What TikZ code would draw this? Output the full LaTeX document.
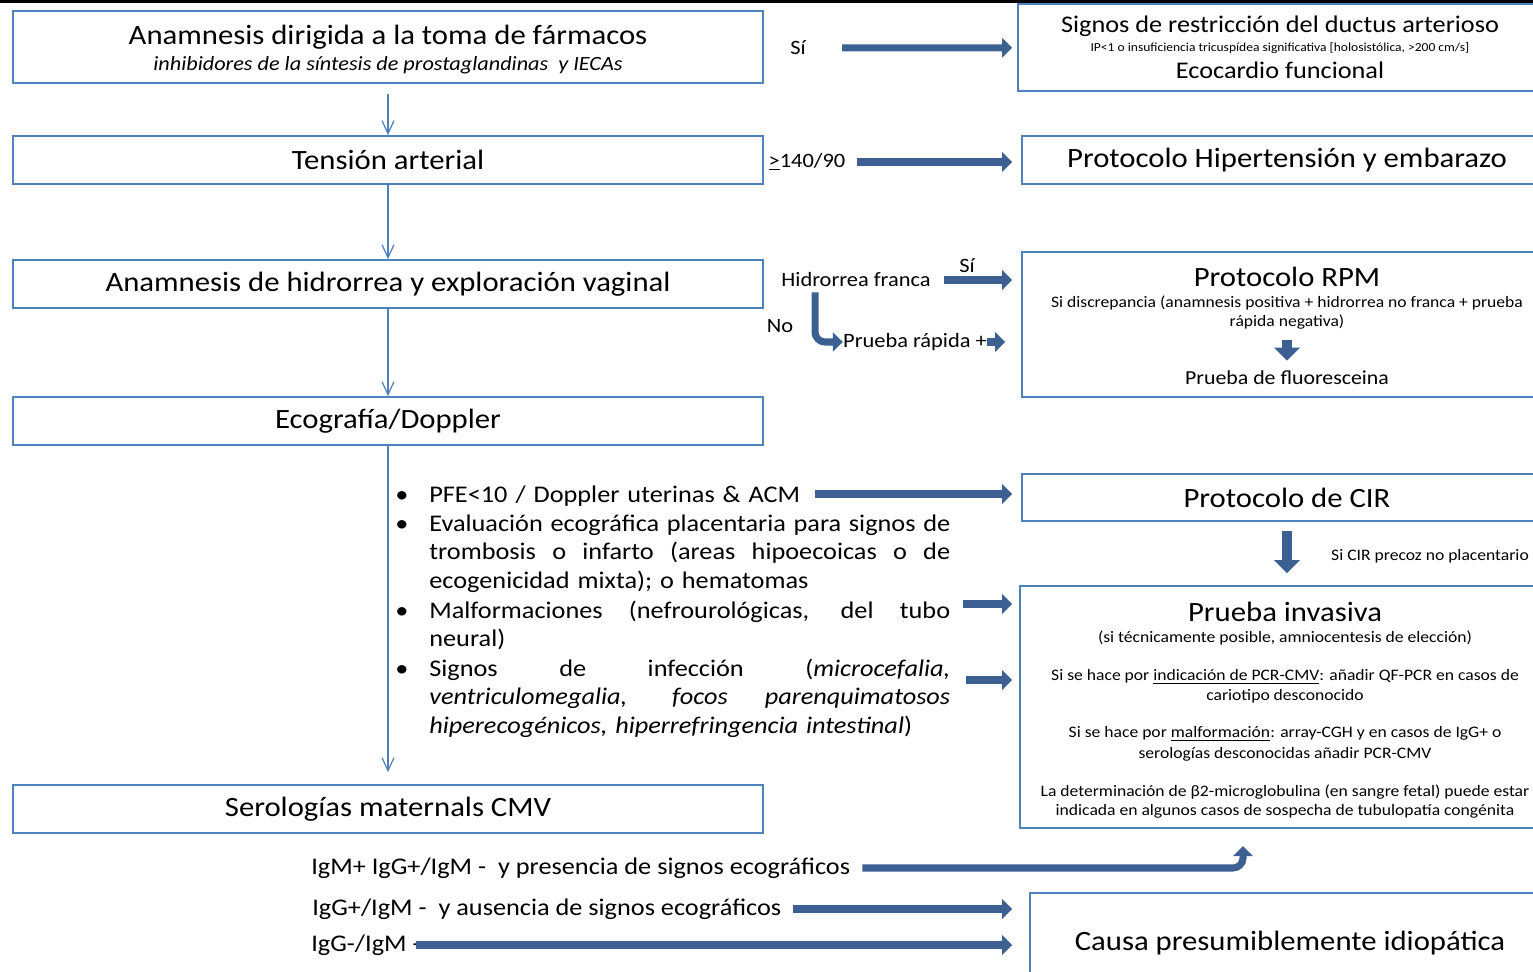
\documentclass[tikz,border=0pt]{standalone}
\usepackage{fontspec}
\setmainfont{Carlito}[FakeStretch=1.1]
\usetikzlibrary{arrows.meta}

\definecolor{boxblue}{RGB}{79,129,189}
\definecolor{arrowblue}{RGB}{60,96,146}

\newcommand{\jline}[1]{\makebox[10.42cm][s]{\spaceskip=0.23em plus 1fil\relax #1}\\}

\tikzset{box_style/.style={draw=boxblue, line width=1pt, inner sep=0pt}}
\tikzset{big_style/.style={font=\fontsize{15.9}{19}\selectfont, inner sep=0pt}}
\tikzset{mid_style/.style={font=\fontsize{13.6}{16.4}\selectfont, inner sep=0pt}}
\tikzset{lab_style/.style={font=\fontsize{11.6}{14}\selectfont, inner sep=0pt}}
\tikzset{small_style/.style={font=\fontsize{9.1}{11}\selectfont, inner sep=0pt}}
\tikzset{tiny_style/.style={font=\fontsize{7}{8.5}\selectfont, inner sep=0pt}}
\tikzset{bul_style/.style={font=\fontsize{13.6}{16.5}\selectfont, text width=10.42cm, anchor=base west, inner sep=0pt}}
\tikzset{thin_arrow/.style={draw=boxblue, line width=0.7pt, -{Straight Barb[length=0.26cm, width=0.24cm]}}}
\tikzset{thick_arrow/.style={draw=arrowblue, line width=4pt, -{Triangle[length=0.2cm, width=0.38cm]}}}
\tikzset{block_arrow/.style={draw=arrowblue, line width=5.7pt, -{Triangle[length=0.26cm, width=0.5cm]}}}

\begin{document}
\begin{tikzpicture}[x=0.02cm, y=-0.02cm]
    \useasboundingbox (0,0) rectangle (1533,972);
    \clip (0,0) rectangle (1533,972);
    \draw[line width=1.7pt] (0,1.5) -- (1533,1.5);

    % left column
    \node[box_style, minimum width=15cm, minimum height=1.44cm] (anam) at (388,47) {};
    \node[big_style] (anam_a) at (388,37) {Anamnesis dirigida a la toma de fármacos};
    \node[lab_style, font=\fontsize{11.5}{14}\selectfont\itshape] (anam_b) at (388,65) {inhibidores de la síntesis de prostaglandinas\ \ y IECAs};
    \node[box_style, big_style, minimum width=15cm, minimum height=0.96cm] (tens) at (388,160) {Tensión arterial};
    \node[box_style, big_style, minimum width=15cm, minimum height=0.96cm] (hidr) at (388,284) {Anamnesis de hidrorrea y exploración vaginal};
    \node[box_style, big_style, minimum width=15cm, minimum height=0.96cm] (ecog) at (388,421) {Ecografía/Doppler};
    \node[box_style, big_style, minimum width=15cm, minimum height=0.96cm] (sero) at (388,809) {Serologías maternals CMV};

    \draw[thin_arrow, shorten <=0.2cm] (anam) -- (tens);
    \draw[thin_arrow] (tens) -- (hidr);
    \draw[thin_arrow] (hidr) -- (ecog);
    \draw[thin_arrow, shorten >=0.24cm] (ecog) -- (sero);

    % right column
    \node[box_style, minimum width=10.48cm, minimum height=1.74cm] (ductus) at (1280,47.5) {};
    \node[mid_style] (ductus_a) at (1280,26) {Signos de restricción del ductus arterioso};
    \node[tiny_style] (ductus_b) at (1280,48) {IP<1 o insuficiencia tricuspídea significativa [holosistólica, >200 cm/s]};
    \node[mid_style] (ductus_c) at (1280,70) {Ecocardio funcional};

    \node[box_style, big_style, minimum width=10.6cm, minimum height=0.96cm] (hta) at (1287,160) {Protocolo Hipertensión y embarazo};

    \node[box_style, minimum width=10.6cm, minimum height=2.9cm] (rpm) at (1287,324.5) {};
    \node[big_style] (rpm_a) at (1287,277) {Protocolo RPM};
    \node[small_style] (rpm_b) at (1287,303) {Si discrepancia (anamnesis positiva + hidrorrea no franca + prueba};
    \node[small_style] (rpm_c) at (1287,322) {rápida negativa)};
    \node[lab_style, font=\fontsize{11.3}{13}\selectfont] (rpm_f) at (1287,378) {Prueba de fluoresceina};
    \draw[block_arrow, shorten <=0.2cm, shorten >=0.2cm] (rpm_c.south) -- (rpm_f.north);

    \node[box_style, big_style, minimum width=10.6cm, minimum height=0.94cm] (cir) at (1287,497.5) {Protocolo de CIR};
    \node[box_style, minimum width=10.6cm, minimum height=4.84cm] (inva) at (1285,707) {};
    \node[big_style] (inva_a) at (1285,612) {Prueba invasiva};
    \node[small_style] (inva_b) at (1285,638) {(si técnicamente posible, amniocentesis de elección)};
    \node[small_style] (inva_c) at (1285,677) {Si se hace por \underline{indicación de PCR-CMV}: añadir QF-PCR en casos de};
    \node[small_style] (inva_d) at (1285,696) {cariotipo desconocido};
    \node[small_style] (inva_e) at (1285,734) {Si se hace por \underline{malformación}: array-CGH y en casos de IgG+ o};
    \node[small_style] (inva_f) at (1285,754) {serologías desconocidas añadir PCR-CMV};
    \node[small_style] (inva_g) at (1285,792) {La determinación de β2-microglobulina (en sangre fetal) puede estar};
    \node[small_style] (inva_h) at (1285,811) {indicada en algunos casos de sospecha de tubulopatía congénita};
    \draw[block_arrow, shorten <=0.18cm, shorten >=0.24cm] (cir.south) -- (cir.south |- inva.north);
    \node[small_style] (cir_l) at (1430,556) {Si CIR precoz no placentario};

    \node[box_style, big_style, minimum width=10.4cm, minimum height=2cm] (idio) at (1290,943) {Causa presumiblemente idiopática};

    % labels between columns
    \node[lab_style] (si_a) at (798,48) {Sí};
    \draw[thick_arrow, shorten <=0.72cm, shorten >=0.1cm] (si_a) -- (ductus);
    \node[lab_style] (ta_v) at (807,162) {\underline{>}140/90};
    \draw[thick_arrow, shorten <=0.22cm, shorten >=0.18cm] (ta_v.east) -- (ta_v.east -| hta.west);
    \node[lab_style] (hf) at (856,280) {Hidrorrea franca};
    \node[lab_style] (si_b) at (967,266) {Sí};
    \node[lab_style] (no_l) at (780,326) {No};
    \node[lab_style] (pr) at (915,342) {Prueba rápida +};
    \draw[thick_arrow, shorten <=0.26cm, shorten >=0.18cm] (hf.east) -- (hf.east -| rpm.west);
    \draw[thick_arrow, rounded corners=0.2cm, shorten <=0.1cm] ([xshift=-0.82cm]hf.south) |- (pr.west);
    \draw[thick_arrow, shorten >=0.32cm] (pr.east) -- (pr.east -| rpm.west);

    % bullets
    \node[bul_style] (b_pfe) at (429,502) {\llap{\textbullet\hspace{0.42cm}}PFE<10 / Doppler uterinas \& ACM};
    \node[bul_style] (b_eva) at (429,531) {\llap{\textbullet\hspace{0.42cm}}\jline{Evaluación ecográfica placentaria para signos de}\jline{trombosis o infarto (areas hipoecoicas o de}ecogenicidad mixta); o hematomas};
    \node[bul_style] (b_mal) at (429,618) {\llap{\textbullet\hspace{0.42cm}}\jline{Malformaciones (nefrourológicas, del tubo}neural)};
    \node[bul_style] (b_inf) at (429,676) {\llap{\textbullet\hspace{0.42cm}}\jline{Signos de infección (\textit{microcefalia,}}\jline{\textit{ventriculomegalia, focos parenquimatosos}}\textit{hiperecogénicos, hiperrefringencia intestinal})};
    \coordinate (p_start) at (815,494);
    \coordinate (m_start) at (963,604);
    \coordinate (i_start) at (966,680);
    \draw[thick_arrow, shorten >=0.18cm] (p_start) -- (p_start -| cir.west);
    \draw[thick_arrow, shorten >=0.14cm] (m_start) -- (m_start -| inva.west);
    \draw[thick_arrow, shorten >=0.14cm] (i_start) -- (i_start -| inva.west);

    % serologies
    \node[mid_style, anchor=west] (s_pres) at (311,868) {IgM+ IgG+/IgM -\ \ y presencia de signos ecográficos};
    \node[mid_style, anchor=west] (s_aus) at (312,909) {IgG+/IgM -\ \ y ausencia de signos ecográficos};
    \node[mid_style, anchor=west] (s_neg) at (311,945) {IgG-/IgM -};
    \coordinate (s_up) at (1243,846);
    \draw[thick_arrow, rounded corners=0.2cm, shorten <=0.24cm] (s_pres.east) -| (s_up);
    \draw[thick_arrow, shorten <=0.22cm, shorten >=0.34cm] (s_aus.east) -- (s_aus.east -| idio.west);
    \draw[thick_arrow, shorten <=-0.1cm, shorten >=0.34cm] (s_neg.east) -- (s_neg.east -| idio.west);

\end{tikzpicture}
\end{document}
